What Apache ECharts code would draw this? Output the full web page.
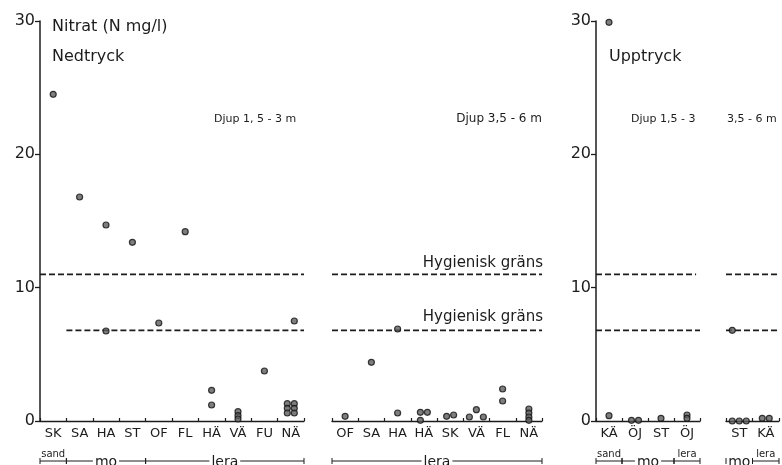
<!DOCTYPE html>
<html>
<head>
<meta charset="utf-8">
<script src="https://cdn.jsdelivr.net/npm/echarts/dist/echarts.min.js"></script>
<style>
  html, body { margin: 0; padding: 0; background: #fff; }
  #chart { width: 782px; height: 465px; }
</style>
</head>
<body>
<div id="chart"></div>
<script>
// ---- Nitrat (N mg/l) per plats; varje kategori: lista av provkolumner ----

// Nedtryck, djup 1,5 - 3 m
const nedGruntCats = ['SK', 'SA', 'HA', 'ST', 'OF', 'FL', 'HÄ', 'VÄ', 'FU', 'NÄ'];
const nedGruntVals = [
  [[24.5]], [[16.8]], [[14.7, 6.75]], [[13.4]], [[7.35]], [[14.2]],
  [[2.3, 1.2]], [[0.7, 0.4, 0.15]], [[3.75]],
  [[1.3, 0.95, 0.6], [7.5, 1.3, 0.95, 0.6]]
];
const nedGruntGroups = [['sand', 0, 1], ['mo', 1, 4], ['lera', 4, 10]];
const nedGruntLimits = [[11.0, 0, 10], [6.8, 1, 10]];

// Nedtryck, djup 3,5 - 6 m
const nedDjupCats = ['OF', 'SA', 'HA', 'HÄ', 'SK', 'VÄ', 'FL', 'NÄ'];
const nedDjupVals = [
  [[0.35]], [[4.4]], [[6.9, 0.6]], [[0.65, 0.05], [0.65]], [[0.35], [0.45]],
  [[0.3], [0.85], [0.3]], [[2.4, 1.5]], [[0.9, 0.6, 0.3, 0.05]]
];
const nedDjupGroups = [['lera', 0, 8]];
const nedDjupLimits = [[11.0, 0, 8], [6.8, 0, 8]];

// Upptryck, djup 1,5 - 3 m
const uppGruntCats = ['KÄ', 'ÖJ', 'ST', 'ÖJ'];
const uppGruntVals = [[[29.9, 0.4]], [[0.05], [0.05]], [[0.2]], [[0.45, 0.2]]];
const uppGruntGroups = [['sand', 0, 1], ['mo', 1, 3], ['lera', 3, 4]];
const uppGruntLimits = [[11.0, 0, 3.85], [6.8, 0, 4]];

// Upptryck, djup 3,5 - 6 m
const uppDjupCats = ['ST', 'KÄ'];
const uppDjupVals = [[[6.8, 0.0], [0.0], [0.0]], [[0.2], [0.2]]];
const uppDjupGroups = [['mo', 0, 1], ['lera', 1, 2]];
const uppDjupLimits = [[11.0, 0, 2], [6.8, 0, 2]];

const yTicks = [0, 10, 20, 30];

const panels = [
  { cats: nedGruntCats, vals: nedGruntVals, groups: nedGruntGroups, limits: nedGruntLimits, yAxis: true },
  { cats: nedDjupCats, vals: nedDjupVals, groups: nedDjupGroups, limits: nedDjupLimits, yAxis: false },
  { cats: uppGruntCats, vals: uppGruntVals, groups: uppGruntGroups, limits: uppGruntLimits, yAxis: true },
  { cats: uppDjupCats, vals: uppDjupVals, groups: uppDjupGroups, limits: uppDjupLimits, yAxis: false }
];

// plot areas (px)
const layout = [
  { left: 40, width: 264 },
  { left: 332, width: 210 },
  { left: 596, width: 104 },
  { left: 726, width: 53 }
];

const INK = '#1c1c1c';
const FONT = 'DejaVu Sans, Verdana, sans-serif';
const COL_GAP = 7;

const grids = [], xAxes = [], yAxes = [], series = [];

panels.forEach((p, k) => {
  grids.push({ left: layout[k].left, width: layout[k].width, top: 21, height: 400 });

  xAxes.push({
    type: 'category', gridIndex: k, data: p.cats, boundaryGap: true,
    axisLine: { show: true, lineStyle: { color: INK, width: 1.3 } },
    axisTick: { show: true, inside: true, length: 3, interval: 0, lineStyle: { color: INK, width: 1.2 } },
    axisLabel: { interval: 0, fontSize: 13, margin: 6, color: INK, fontFamily: FONT },
    splitLine: { show: false }
  });
  xAxes.push({ type: 'value', gridIndex: k, min: 0, max: p.cats.length, show: false });

  yAxes.push({
    type: 'value', gridIndex: k, min: yTicks[0], max: yTicks[yTicks.length - 1], interval: 10,
    show: p.yAxis,
    axisLine: { show: true, lineStyle: { color: INK, width: 1.5 } },
    axisTick: { show: true, inside: false, length: 5, lineStyle: { color: INK, width: 1.3 } },
    axisLabel: { fontSize: 16, margin: 5, color: INK, fontFamily: FONT },
    splitLine: { show: false }
  });

  // sample points
  const pts = [];
  p.vals.forEach((cols, i) => {
    const n = cols.length;
    cols.forEach((col, j) => {
      const off = (j - (n - 1) / 2) * COL_GAP;
      col.forEach(v => pts.push({ value: [i, v], symbolOffset: [off, 0] }));
    });
  });
  series.push({
    type: 'scatter', xAxisIndex: 2 * k, yAxisIndex: k, data: pts,
    symbol: 'circle', symbolSize: 6,
    itemStyle: { color: '#5e5e5e', borderColor: '#111', borderWidth: 1.2 },
    emphasis: { disabled: true }, z: 5
  });

  // Hygienisk gräns
  p.limits.forEach(([level, from, to]) => {
    series.push({
      type: 'line', xAxisIndex: 2 * k + 1, yAxisIndex: k,
      data: [[from, level], [to, level]], symbol: 'none', silent: true,
      lineStyle: { color: INK, width: 1.6, type: [6, 3] }, z: 3
    });
  });
});

const chart = echarts.init(document.getElementById('chart'), null, { renderer: 'canvas' });
chart.setOption({
  animation: false,
  backgroundColor: '#fff',
  grid: grids, xAxis: xAxes, yAxis: yAxes, series: series
});

// ---- texts and soil-type brackets ----
const ctx = document.createElement('canvas').getContext('2d');
function textWidth(t, size) { ctx.font = size + 'px ' + FONT; return ctx.measureText(t).width; }

function txt(t, x, y, size, align) {
  return {
    type: 'text', silent: true,
    style: { text: t, x: x, y: y, font: size + 'px ' + FONT, fill: INK,
             textAlign: align || 'left', textVerticalAlign: 'middle' }
  };
}
function seg(x1, y1, x2, y2, w) {
  return { type: 'line', silent: true, shape: { x1, y1, x2, y2 },
           style: { stroke: INK, lineWidth: w || 1 } };
}

const g = [
  txt('Nitrat (N mg/l)', 52, 27, 16),
  txt('Nedtryck', 52, 57, 16),
  txt('Djup 1, 5 - 3 m', 214, 119, 11),
  txt('Djup 3,5 - 6 m', 542, 119, 12, 'right'),
  txt('Upptryck', 609, 57, 16),
  txt('Djup 1,5 - 3', 631, 119, 11),
  txt('3,5 - 6 m', 727, 119, 11),
  txt('Hygienisk gräns', 543, 263, 15, 'right'),
  txt('Hygienisk gräns', 543, 317, 15, 'right')
];

const BY = 461;
panels.forEach((p, k) => {
  p.groups.forEach(([name, a, b]) => {
    const x1 = chart.convertToPixel({ xAxisIndex: 2 * k + 1 }, a);
    const x2 = chart.convertToPixel({ xAxisIndex: 2 * k + 1 }, b);
    const wIn = textWidth(name, 14);
    g.push(seg(x1, BY - 3, x1, BY + 3), seg(x2, BY - 3, x2, BY + 3));
    if (wIn + 2 < x2 - x1) {
      const cx = (x1 + x2) / 2;
      g.push(seg(x1, BY, cx - wIn / 2 - 2, BY), seg(cx + wIn / 2 + 2, BY, x2, BY));
      g.push(txt(name, cx, BY + 1, 14, 'center'));
    } else {
      g.push(seg(x1, BY, x2, BY));
      g.push(txt(name, (x1 + x2) / 2, BY - 7, 10, 'center'));
    }
  });
});

chart.setOption({ graphic: { elements: g } });
</script>
</body>
</html>
